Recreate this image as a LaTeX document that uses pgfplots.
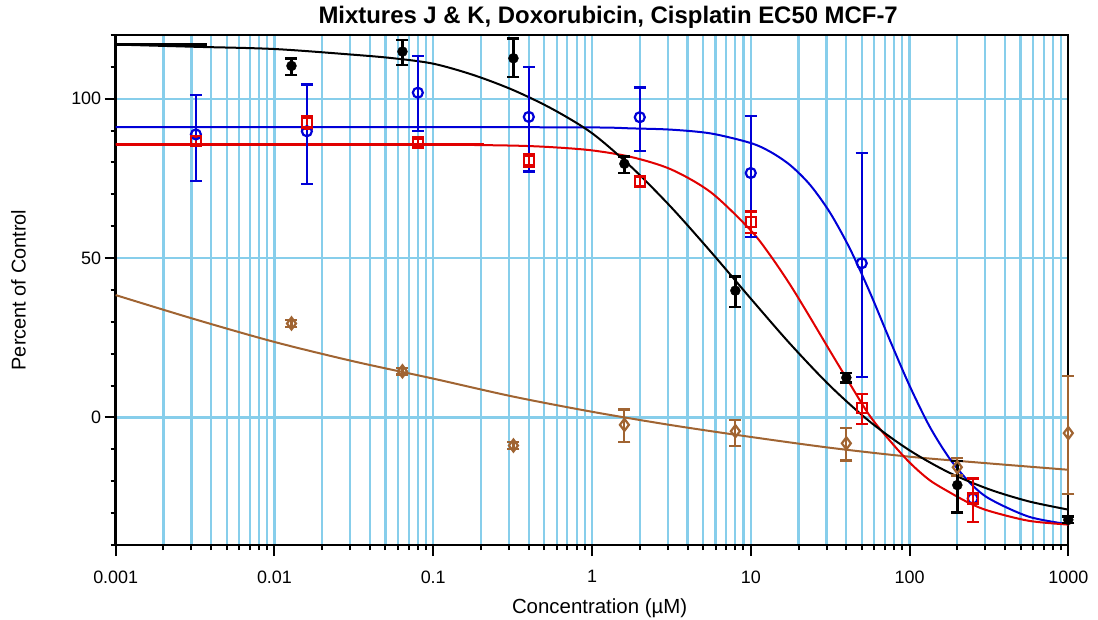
\documentclass[border=0pt]{standalone}
\usepackage{fontspec}
\setmainfont{Liberation Sans}
\usepackage{pgfplots}
\pgfplotsset{compat=1.18}
\definecolor{gridc}{RGB}{135,206,235}
\definecolor{cblue}{RGB}{0,0,215}
\definecolor{cred}{RGB}{225,0,0}
\definecolor{cbrown}{RGB}{160,100,50}
\begin{document}
\begin{tikzpicture}
\path[use as bounding box] (-115.7bp,-75bp) rectangle (982.3bp,545bp);
\begin{axis}[
  at={(0,0)}, anchor=south west,
  scale only axis, width=952.6bp, height=510bp,
  xmode=log, log basis x=10,
  xmin=0.001, xmax=1000, ymin=-40, ymax=120,
  xtick={0.001,0.01,0.1,1,10,100,1000},
  xticklabels={0.001,0.01,0.1,1,10,100,1000},
  minor xtick={0.002,0.003,0.004,0.005,0.006,0.007,0.008,0.009,
    0.02,0.03,0.04,0.05,0.06,0.07,0.08,0.09,
    0.2,0.3,0.4,0.5,0.6,0.7,0.8,0.9,
    2,3,4,5,6,7,8,9,20,30,40,50,60,70,80,90,
    200,300,400,500,600,700,800,900},
  ytick={0,50,100}, yticklabels={0,50,100},
  minor ytick={-40,-30,-20,-10,10,20,30,40,60,70,80,90,110,120},
  xtick pos=bottom, ytick pos=left, tick align=outside,
  major tick length=11bp, minor tick length=5bp,
  every tick/.style={black, line width=2bp},
  xmajorgrids, xminorgrids, ymajorgrids,
  grid style={gridc, line width=2.2bp},
  major grid style={gridc, line width=2.2bp},
  minor grid style={gridc, line width=2.2bp},
  axis line style={black, line width=2.4bp},
  tick label style={font=\fontsize{18}{20}\selectfont, black},
  xticklabel style={yshift=-11bp},
  clip=false,
]
% fitted curves
\addplot[cbrown, line width=2bp, mark=none, smooth] coordinates {
(0.001,38.4) (0.003162,30.8) (0.01,23.7) (0.03162,17.6) (0.1,12.2) (0.3162,6.6)
(1,1.8) (3.162,-2.4) (10,-6.1) (31.62,-9.5) (100,-12.3) (316.2,-14.4) (1000,-16.4)};
\addplot[cblue, line width=2bp, mark=none, smooth] coordinates {
(0.001,91.1) (0.1,91.1) (1,91.0) (1.778,90.7) (3.162,90.3) (5.623,89.1) (10,86.1) (13.34,83.3)
(17.78,79.1) (23.71,72.9) (31.62,64.2) (42.17,52.9) (56.23,39.3) (74.99,24.4) (100,10.0)
(133.4,-2.7) (177.8,-12.7) (237.1,-20.2) (316.2,-25.4) (562.3,-31.1) (1000,-33.5)};
\addplot[cred, line width=2bp, mark=none, smooth] coordinates {
(0.001,85.7) (0.01,85.7) (0.1,85.6) (0.3162,85.3) (0.5623,84.8) (1,83.8) (1.778,81.7)
(3.162,77.8) (5.623,70.6) (10,58.7) (13.34,50.7) (17.78,41.5) (23.71,31.3) (31.62,20.8)
(42.17,10.5) (56.23,0.5) (74.99,-7.2) (100,-14.1) (133.4,-19.6) (177.8,-23.4)
(237.1,-26.8) (316.2,-29.3) (562.3,-32.4) (1000,-33.6)};
\addplot[cred, line width=2.8bp, mark=none] coordinates {(0.001,85.6) (0.21,85.6)};
\addplot[black, line width=2bp, mark=none, smooth] coordinates {
(0.001,117.0) (0.003162,116.3) (0.01,115.6) (0.03162,113.8) (0.05623,112.7) (0.1,111.0)
(0.1778,107.5) (0.3162,102.8) (0.5623,96.8) (1,89.2) (1.778,78.5) (3.162,65.9)
(5.623,51.9) (10,37.3) (17.78,23.0) (31.62,9.9) (56.23,-1.3) (100,-10.3) (177.8,-17.3)
(316.2,-22.5) (562.3,-26.3) (1000,-28.9)};
\addplot[black, line width=3bp, mark=none] coordinates {(0.001,117.1) (0.00374,117.1)};
% data points
\addplot[cblue, only marks, mark=o, mark size=5bp, mark options={line width=2.2bp},
  error bars/.cd, y dir=both, y explicit,
  error bar style={line width=2.2bp},
  error mark options={rotate=90, line width=2.2bp, mark size=6bp}] coordinates {
(0.0032,88.8) += (0,12.3) -= (0,14.7)
(0.016,89.8) += (0,14.7) -= (0,16.5)
(0.08,101.9) += (0,11.5) -= (0,12.1)
(0.4,94.3) += (0,15.6) -= (0,17.1)
(2,94.2) += (0,9.3) -= (0,10.7)
(10,76.7) += (0,18.0) -= (0,20.0)
(50,48.4) += (0,34.6) -= (0,35.7)
(250,-25.4) += (0,6.3) -= (0,7.3)};
\addplot[cbrown, only marks, mark=diamond, mark size=6bp, mark options={line width=2.2bp},
  error bars/.cd, y dir=both, y explicit,
  error bar style={line width=2.2bp},
  error mark options={rotate=90, line width=2.2bp, mark size=6bp}] coordinates {
(0.0128,29.5) += (0,1.0) -= (0,1.0)
(0.064,14.5) += (0,1.0) -= (0,1.0)
(0.32,-8.8) += (0,1.0) -= (0,1.0)
(1.6,-2.3) += (0,4.8) -= (0,5.5)
(8,-4.3) += (0,3.4) -= (0,4.7)
(40,-8.1) += (0,4.7) -= (0,5.4)
(200,-15.6) += (0,2.8) -= (0,2.6)
(1000,-4.9) += (0,18.0) -= (0,19.0)};
\addplot[cred, only marks, mark=square, mark size=5bp, mark options={line width=2.4bp},
  error bars/.cd, y dir=both, y explicit,
  error bar style={line width=2.4bp},
  error mark options={rotate=90, line width=2.4bp, mark size=6bp}] coordinates {
(0.0032,86.7) += (0,1.0) -= (0,1.0)
(0.016,92.6) += (0,2.0) -= (0,2.0)
(0.08,86.3) += (0,1.0) -= (0,1.0)
(0.4,80.6) += (0,2.0) -= (0,2.0)
(2,74.1) += (0,1.5) -= (0,1.5)
(10,61.3) += (0,3.3) -= (0,3.5)
(50,2.9) += (0,4.5) -= (0,4.9)
(250,-25.4) += (0,6.3) -= (0,7.3)};
\addplot[black, only marks, mark=*, mark size=5bp,
  error bars/.cd, y dir=both, y explicit,
  error bar style={line width=2.4bp},
  error mark options={rotate=90, line width=2.4bp, mark size=6bp}] coordinates {
(0.0128,110.3) += (0,2.3) -= (0,2.8)
(0.064,114.8) += (0,3.7) -= (0,4.2)
(0.32,112.7) += (0,6.2) -= (0,5.9)
(1.6,79.6) += (0,2.3) -= (0,2.9)
(8,39.8) += (0,4.4) -= (0,5.2)
(40,12.5) += (0,1.5) -= (0,1.5)
(200,-21.2) += (0,7.6) -= (0,8.6)
(1000,-32.1) += (0,1.0) -= (0,1.0)};
% labels
\node[anchor=base, font=\bfseries\fontsize{24}{26}\selectfont] at (axis description cs:0.517,1.0235) {Mixtures J \& K, Doxorubicin, Cisplatin EC50 MCF-7};
\node[anchor=base, font=\fontsize{20.5}{22}\selectfont] at (axis description cs:0.508,-0.134) {Concentration (µM)};
\node[rotate=90, font=\fontsize{20}{22}\selectfont] at (axis description cs:-0.102,0.5) {Percent of Control};
\end{axis}
\end{tikzpicture}
\end{document}
